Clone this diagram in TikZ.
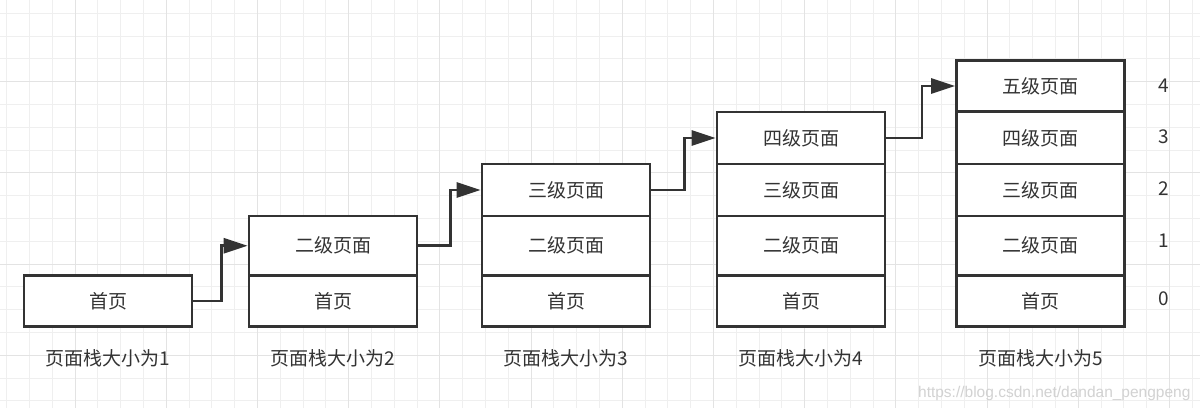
\documentclass[tikz,border=0pt]{standalone}
\usepackage{fontspec}
\setmainfont{Noto Sans CJK SC}
\newfontfamily\wmfont{Liberation Sans}
\usetikzlibrary{arrows.meta}
\definecolor{ink}{HTML}{333333}
\definecolor{gridminor}{HTML}{EFEFEF}
\definecolor{gridmajor}{HTML}{E3E3E3}
\definecolor{wmgray}{HTML}{D2D2D2}
\begin{document}
\begin{tikzpicture}[x=1pt,y=-1pt,
  cell/.style={draw=ink, line width=2.8pt, fill=white, minimum width=168pt,
    inner sep=0pt, text=ink, font=\fontsize{19}{19}\selectfont},
  h0/.style={minimum height=51pt},
  h1/.style={minimum height=59.5pt},
  h2/.style={minimum height=52pt},
  h3/.style={minimum height=52pt},
  h4/.style={minimum height=51.5pt},
  conn/.style={draw=ink, line width=2.8pt, -{Triangle[length=24pt,width=15pt]}},
  stacklabel/.style={text=ink, font=\fontsize{19}{19}\selectfont},
  idx/.style={text=ink, font=\fontsize{19}{19}\selectfont},
  wmark/.style={text=wmgray, font=\wmfont\fontsize{15.5}{15.5}\selectfont}]
\useasboundingbox (0,0) rectangle (1200,408);
\fill[white] (0,0) rectangle (1200,408);
% grid
\foreach \i in {0,...,52} {
  \pgfmathsetmacro\gx{6.7+22.8*\i}
  \draw[gridminor, line width=1pt] (\gx,0) -- (\gx,408);
}
\foreach \i in {0,...,17} {
  \pgfmathsetmacro\gy{13.3+22.8*\i}
  \draw[gridminor, line width=1pt] (0,\gy) -- (1200,\gy);
}
\foreach \i in {3,7,...,51} {
  \pgfmathsetmacro\gx{6.7+22.8*\i}
  \draw[gridmajor, line width=1pt] (\gx,0) -- (\gx,408);
}
\foreach \i in {3,7,11,15} {
  \pgfmathsetmacro\gy{13.3+22.8*\i}
  \draw[gridmajor, line width=1pt] (0,\gy) -- (1200,\gy);
}
% stack 1
\node[cell,h0] (a0) at (108,301) {首页};
% stack 2
\node[cell,h0] (b0) at (333,301) {首页};
\node[cell,h1] (b1) at (333,245.75) {二级页面};
% stack 3
\node[cell,h0] (c0) at (566,301) {首页};
\node[cell,h1] (c1) at (566,245.75) {二级页面};
\node[cell,h2] (c2) at (566,190) {三级页面};
% stack 4
\node[cell,h0] (d0) at (801,301) {首页};
\node[cell,h1] (d1) at (801,245.75) {二级页面};
\node[cell,h2] (d2) at (801,190) {三级页面};
\node[cell,h3] (d3) at (801,138) {四级页面};
% stack 5
\node[cell,h0] (e0) at (1040.5,301) {首页};
\node[cell,h1] (e1) at (1040.5,245.75) {二级页面};
\node[cell,h2] (e2) at (1040.5,190) {三级页面};
\node[cell,h3] (e3) at (1040.5,138) {四级页面};
\node[cell,h4] (e4) at (1040.5,86) {五级页面};
% connectors
\draw[conn] (a0.east) -- ++(28,0) |- (b1.west);
\draw[conn] (b1.east) -- ++(32,0) |- (c2.west);
\draw[conn] (c2.east) -- ++(33,0) |- (d3.west);
\draw[conn] (d3.east) -- ++(35.5,0) |- (e4.west);
% captions
\node[stacklabel] (l1) at (108,358) {页面栈大小为1};
\node[stacklabel] (l2) at (333,358) {页面栈大小为2};
\node[stacklabel] (l3) at (566,358) {页面栈大小为3};
\node[stacklabel] (l4) at (801,358) {页面栈大小为4};
\node[stacklabel] (l5) at (1040.5,358) {页面栈大小为5};
% indices
\node[idx] (i4) at (1163.5,86) {4};
\node[idx] (i3) at (1163.5,137) {3};
\node[idx] (i2) at (1163.5,189) {2};
\node[idx] (i1) at (1163.5,241) {1};
\node[idx] (i0) at (1163.5,299) {0};
% watermark
\node[wmark, anchor=east] (wm) at (1194,393) {https://blog.csdn.net/dandan\_pengpeng};
\end{tikzpicture}
\end{document}
